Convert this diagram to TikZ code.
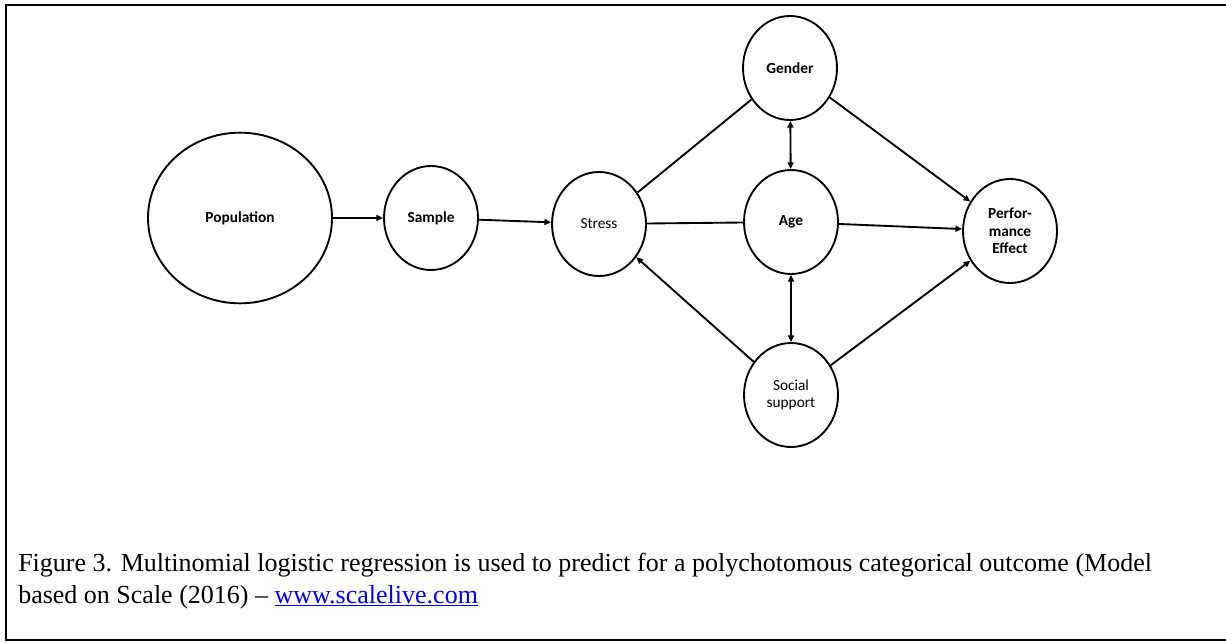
\documentclass[tikz,border=0pt]{standalone}
\usepackage{fontspec}
\setmainfont{Liberation Serif}
\newfontfamily\circfont{Carlito}
\usetikzlibrary{arrows.meta, shapes.geometric}
\usepackage{xcolor}

\tikzset{
  var/.style={draw, ellipse, line width=1.4pt, minimum width=70.5pt, minimum height=78pt,
    inner sep=0pt, align=center, font=\circfont\bfseries\fontsize{11.5}{13}\selectfont},
  lite/.style={font=\circfont\fontsize{11.5}{13}\selectfont},
  link/.style={line width=1.4pt},
  arr/.style={link, -{Triangle[length=5pt,width=4.5pt]}},
  both/.style={link, {Triangle[length=5pt,width=4.5pt]}-{Triangle[length=5pt,width=4.5pt]}}
}

\begin{document}
\begin{tikzpicture}[x=0.75pt,y=0.75pt,yscale=-1,xscale=1]
        \useasboundingbox (0,0) rectangle (1226,642);
        
        %Frame
        \draw [line width=1.6pt]  (6,641) -- (6,5) -- (133,5) ;
        \draw [line width=0.8pt]  (133,5) -- (1101,5) ;
        \draw [line width=1.6pt]  (1101,5) -- (1226,5) ;
        \draw [line width=1.6pt]  (6,640) -- (1226,640) ;
        
        % Text Node
        \draw (240,218) node [var, minimum width=138pt, minimum height=128pt] (pop) {Population};
        % Text Node
        \draw (431,218) node [var] (sample) {Sample};
        % Text Node
        \draw (599,224) node [var, lite] (stress) {Stress};
        % Text Node
        \draw (790,68) node [var] (gender) {Gender};
        % Text Node
        \draw (791,222) node [var] (age) {Age};
        % Text Node
        \draw (791,395) node [var, lite] (social) {Social\\support};
        % Text Node
        \draw (1010,231) node [var] (perf) {Perfor-\\mance\\Effect};
        
        %Straight Lines
        \draw [arr]  (pop) -- (sample) ;
        \draw [arr]  (sample) -- (stress) ;
        \draw [link]  (stress) -- (gender) ;
        \draw [link]  (stress) -- (age) ;
        \draw [arr]  (social) -- (stress) ;
        \draw [both]  (gender) -- (age) ;
        \draw [both]  (age) -- (social) ;
        \draw [arr]  (gender) -- (perf) ;
        \draw [arr]  (age) -- (perf) ;
        \draw [arr]  (social) -- (perf) ;
        
        % Caption
        \draw (18,565) node [anchor=west, inner sep=0pt] (cap1) {\fontsize{19.5}{23}\selectfont Figure 3. Multinomial logistic regression is used to predict for a polychotomous categorical outcome (Model};
        \draw (18,597) node [anchor=west, inner sep=0pt] (cap2) {\fontsize{19.5}{23}\selectfont based on Scale (2016) -- \textcolor{blue}{\underline{www.scalelive.com}}};
        
        \end{tikzpicture}
\end{document}
